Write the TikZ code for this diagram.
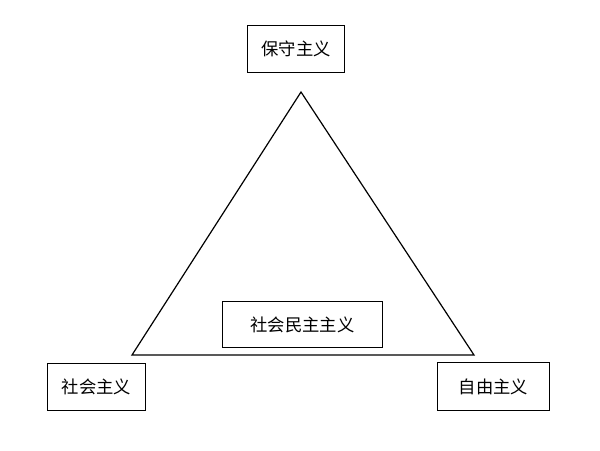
\documentclass[tikz,border=0pt]{standalone}
\usepackage{fontspec}
\setmainfont{Noto Sans CJK SC}
\begin{document}
\begin{tikzpicture}[x=0.75pt,y=-0.75pt,
  lbl/.style={draw,line width=0.8pt,font=\fontsize{13}{15}\selectfont,inner sep=0pt,anchor=north west}]
\useasboundingbox (0,0) rectangle (600,450);
\node[lbl,minimum width=97*0.75pt,minimum height=47*0.75pt] (top) at (247,25) {保守主义};
\node[lbl,minimum width=98*0.75pt,minimum height=47*0.75pt] (left) at (47,363) {社会主义};
\node[lbl,minimum width=112*0.75pt,minimum height=48*0.75pt] (right) at (437,362) {自由主义};
\node[lbl,minimum width=160*0.75pt,minimum height=46*0.75pt] (mid) at (222,301) {社会民主主义};
\coordinate (A) at (301,92);
\coordinate (B) at (132,355);
\coordinate (C) at (474,355);
\draw[line width=0.9pt] (A) -- (B) -- (C) -- cycle;
\end{tikzpicture}
\end{document}
